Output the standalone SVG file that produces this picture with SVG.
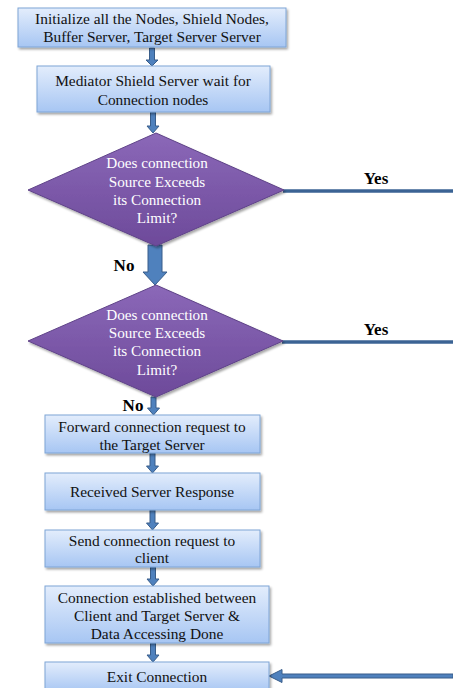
<svg xmlns="http://www.w3.org/2000/svg" width="453" height="688" viewBox="0 0 453 688">
<defs>
  <linearGradient id="gBox" x1="0" y1="0" x2="0" y2="1">
    <stop offset="0" stop-color="#e3edfc"/>
    <stop offset="1" stop-color="#a7c6f3"/>
  </linearGradient>
  <linearGradient id="gDia" x1="0" y1="0" x2="0" y2="1">
    <stop offset="0" stop-color="#8b68b8"/>
    <stop offset="1" stop-color="#6d4a9a"/>
  </linearGradient>
  <filter id="sh" x="-10%" y="-10%" width="125%" height="140%">
    <feDropShadow dx="1.5" dy="2" stdDeviation="1.2" flood-color="#000" flood-opacity="0.35"/>
  </filter>
</defs>
<style>
  .box { fill: url(#gBox); stroke: #7fa5d6; stroke-width: 1; filter: url(#sh); }
  .dia { fill: url(#gDia); stroke: #5f4388; stroke-width: 1; filter: url(#sh); }
  .t { font-family: "Liberation Serif", "Times New Roman", serif; font-size: 15.4px; fill: #111; text-anchor: middle; }
  .tw { font-family: "Liberation Serif", "Times New Roman", serif; font-size: 15.2px; fill: #ffffff; text-anchor: middle; }
  .lbl { font-family: "Liberation Serif", "Times New Roman", serif; font-size: 17px; font-weight: bold; fill: #000; text-anchor: middle; }
  .arr { fill: #4f81bd; stroke: #385d8a; stroke-width: 1; }
  .line { stroke: #3b6394; stroke-width: 3.5; fill: none; }
</style>
<rect width="453" height="688" fill="#ffffff"/>

<g id="connectors">
  <path class="arr" d="M149.5,48 H154.5 V60 H158 L152,66 L146,60 H149.5 Z"/>
  <path class="arr" d="M150.5,112 H155.5 V126 H159 L153,133 L147,126 H150.5 Z"/>
  <path class="arr" d="M148,245 H162 V272 H167 L155,285 L143,272 H148 Z"/>
  <path class="arr" d="M151,397 H156 V408 H159.5 L153.5,415 L147.5,408 H151 Z"/>
  <path class="arr" d="M150,453 H155 V466 H158.5 L152.5,473 L146.5,466 H150 Z"/>
  <path class="arr" d="M150,510 H155 V523 H158.5 L152.5,530 L146.5,523 H150 Z"/>
  <path class="arr" d="M150.5,567 H155.5 V579 H159 L153,586 L147,579 H150.5 Z"/>
  <path class="arr" d="M150.5,643 H155.5 V655 H159 L153,662 L147,655 H150.5 Z"/>
  <line class="line" x1="283" y1="191" x2="453" y2="191"/>
  <line class="line" x1="282" y1="342" x2="453" y2="342"/>
  <path class="arr" d="M453,674 H282 V669.5 L269,676 L282,682.5 V678 H453 Z"/>
  <text class="lbl" x="376" y="184">Yes</text>
  <text class="lbl" x="376" y="335">Yes</text>
  <text class="lbl" x="124" y="271">No</text>
  <text class="lbl" x="133" y="411">No</text>
</g>

<g id="n1">
  <rect class="box" x="18" y="8" width="268" height="39"/>
  <text class="t" x="152" y="24">Initialize all the Nodes, Shield Nodes,</text>
  <text class="t" x="152" y="42">Buffer Server, Target Server Server</text>
</g>
<g id="n2">
  <rect class="box" x="37" y="66" width="233" height="46"/>
  <text class="t" x="153" y="86">Mediator Shield Server wait for</text>
  <text class="t" x="153" y="105">Connection nodes</text>
</g>
<g id="d1">
  <polygon class="dia" points="156,133 284,190 156,246 28,190"/>
  <text class="tw" x="157" y="168">Does connection</text>
  <text class="tw" x="157" y="187">Source Exceeds</text>
  <text class="tw" x="157" y="205">its Connection</text>
  <text class="tw" x="157" y="223">Limit?</text>
</g>
<g id="d2">
  <polygon class="dia" points="156,285 283,341 156,397 28,341"/>
  <text class="tw" x="157" y="320">Does connection</text>
  <text class="tw" x="157" y="338">Source Exceeds</text>
  <text class="tw" x="157" y="356">its Connection</text>
  <text class="tw" x="157" y="375">Limit?</text>
</g>
<g id="n3">
  <rect class="box" x="45" y="415" width="215" height="38"/>
  <text class="t" x="152" y="432">Forward connection request to</text>
  <text class="t" x="152" y="450">the Target Server</text>
</g>
<g id="n4">
  <rect class="box" x="45" y="473" width="215" height="37"/>
  <text class="t" x="152" y="497">Received Server Response</text>
</g>
<g id="n5">
  <rect class="box" x="45" y="530" width="215" height="37"/>
  <text class="t" x="152" y="546">Send connection request to</text>
  <text class="t" x="152" y="563">client</text>
</g>
<g id="n6">
  <rect class="box" x="45" y="586" width="224" height="57"/>
  <text class="t" x="157" y="603">Connection established between</text>
  <text class="t" x="157" y="621">Client and Target Server &amp;</text>
  <text class="t" x="157" y="639">Data Accessing Done</text>
</g>
<g id="n7">
  <rect class="box" x="45" y="662" width="224" height="30"/>
  <text class="t" x="157" y="682">Exit Connection</text>
</g>
</svg>
